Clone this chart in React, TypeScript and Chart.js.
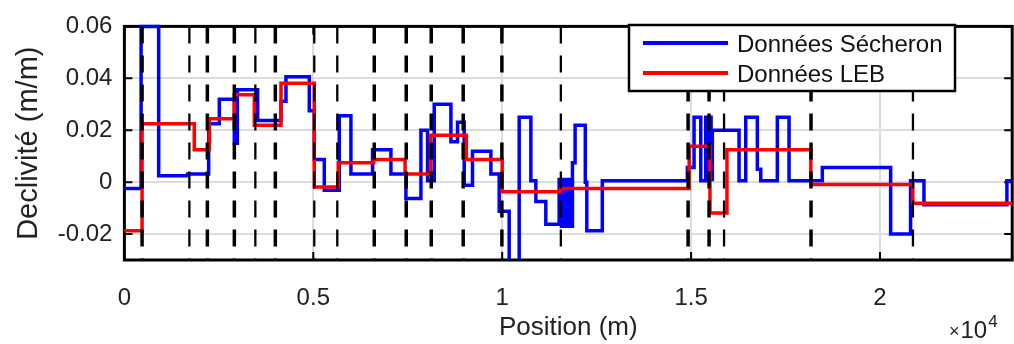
import React, { useEffect, useRef } from 'react';
import { Chart, registerables } from 'chart.js';

Chart.register(...registerables);

// ---- data ----
const secheronPos = [0, 442, 908, 1675, 2231, 2513, 2910, 2990, 3527, 4145, 4277, 4894, 5026, 5291, 5688, 5996, 6569, 7055, 7452, 7849, 8025, 8201, 8643, 8818, 8995, 9214, 9701, 9921, 10185, 10450, 10759, 10891, 11155, 11508, 11570, 11630, 11700, 11770, 11820, 11860, 11930, 12200, 12240, 12650, 14902, 15079, 15257, 15389, 15440, 15490, 15530, 15563, 16270, 16447, 16754, 16844, 17283, 17593, 18474, 20283, 20810, 21164, 23360, 23500];
const secheronVal = [-0.0025, 0.06, 0.0025, 0.0031, 0.0225, 0.0319, 0.015, 0.0356, 0.0237, 0.0312, 0.0406, 0.0275, 0.0087, -0.0031, 0.0256, 0.0031, 0.0125, 0.0031, -0.0063, 0.02, 0.0005, 0.030, 0.0156, 0.0231, -0.0012, 0.0119, 0.0031, -0.0112, -0.04, 0.025, 0.0005, -0.0075, -0.0162, 0.001, -0.017, 0.001, -0.017, 0.001, -0.017, 0.0075, 0.0219, 0.0, -0.0187, 0.0005, 0.0056, 0.025, 0.0005, 0.025, 0.001, 0.025, 0.001, 0.02, 0.0005, 0.025, 0.005, 0.0005, 0.025, 0.0005, 0.0056, -0.02, 0.0005, -0.0087, 0.0005, 0.0005];

const lebPos = [0, 468, 1850, 2250, 2910, 3440, 4145, 5026, 5660, 6600, 7430, 8110, 9050, 10000, 11550, 14950, 15500, 15950, 18170, 20870, 23500];
const lebVal = [-0.0187, 0.0225, 0.0125, 0.0244, 0.0337, 0.0219, 0.0381, -0.0019, 0.0075, 0.0087, 0.0031, 0.0181, 0.0087, -0.0037, -0.0025, 0.0138, -0.0119, 0.0125, -0.0009, -0.0081, -0.0081];

const sectionMarksMajor = [468, 2196, 2910, 3995, 6614, 7460, 8122, 8968, 9992, 14921, 15476, 18175];
const sectionMarksMinor = [1720, 3466, 5026, 5635, 11553, 15873, 20873];

const xTicks = [0, 5000, 10000, 15000, 20000];
const xTickLabels = ['0', '0.5', '1', '1.5', '2'];
const yTicks = [-0.02, 0, 0.02, 0.04, 0.06];
const yTickLabels = ['-0.02', '0', '0.02', '0.04', '0.06'];
const seriesNames = ['Données Sécheron', 'Données LEB'];
const xTitle = 'Position (m)';
const yTitle = 'Declivité (m/m)';
const xExponent = '4';

const X_MIN = 0;
const X_MAX = 23500;
const Y_MIN = -0.03;
const Y_MAX = 0.06;

const FONT = '"Liberation Sans", Arial, Helvetica, sans-serif';
const TXT = '#222222';

const framePlugin = {
  id: 'frame',
  beforeDatasetsDraw(chart: any) {
    const { ctx, chartArea: a, scales } = chart;
    ctx.save();
    ctx.strokeStyle = '#000';
    ctx.lineWidth = 2;
    const tl = 8;
    ctx.beginPath();
    xTicks.forEach((v) => {
      const px = scales.x.getPixelForValue(v);
      ctx.moveTo(px, a.bottom); ctx.lineTo(px, a.bottom - tl);
      ctx.moveTo(px, a.top); ctx.lineTo(px, a.top + tl);
    });
    yTicks.forEach((v) => {
      const py = scales.y.getPixelForValue(v);
      ctx.moveTo(a.left, py); ctx.lineTo(a.left + tl, py);
      ctx.moveTo(a.right, py); ctx.lineTo(a.right - tl, py);
    });
    ctx.stroke();
    ctx.lineWidth = 3;
    ctx.strokeRect(a.left, a.top, a.right - a.left, a.bottom - a.top);
    ctx.restore();
  },
};

const overlayPlugin = {
  id: 'overlay',
  afterDraw(chart: any) {
    const { ctx } = chart;
    ctx.save();
    // legend
    const lx = 629, ly = 25, lw = 326, lh = 66;
    ctx.fillStyle = '#fff';
    ctx.fillRect(lx, ly, lw, lh);
    ctx.strokeStyle = '#000';
    ctx.lineWidth = 2.5;
    ctx.strokeRect(lx, ly, lw, lh);
    const colors = ['#0000ff', '#ff0000'];
    const rows = [43, 73];
    ctx.font = `24px ${FONT}`;
    ctx.textBaseline = 'middle';
    ctx.textAlign = 'left';
    rows.forEach((ry, i) => {
      ctx.strokeStyle = colors[i];
      ctx.lineWidth = 4;
      ctx.beginPath();
      ctx.moveTo(643, ry);
      ctx.lineTo(728, ry);
      ctx.stroke();
      ctx.fillStyle = '#111';
      ctx.fillText(seriesNames[i], 737, ry + 2);
    });
    // x10^4
    ctx.fillStyle = TXT;
    ctx.textBaseline = 'alphabetic';
    ctx.font = `18px ${FONT}`;
    ctx.fillText('×', 949, 337);
    const wx = ctx.measureText('×').width;
    ctx.font = `24px ${FONT}`;
    ctx.fillText('10', 949 + wx + 1, 338);
    const w10 = ctx.measureText('10').width;
    ctx.font = `17px ${FONT}`;
    ctx.fillText(xExponent, 949 + wx + 1 + w10 + 1, 327);
    ctx.restore();
  },
};

export default function App() {
  const ref = useRef<HTMLCanvasElement | null>(null);
  useEffect(() => {
    if (!ref.current) return;
    const markerSets = [
      ...sectionMarksMajor.map((m) => ({ m, w: 3.5 })),
      ...sectionMarksMinor.map((m) => ({ m, w: 2.3 })),
    ];
    const markerDatasets = markerSets.map(({ m, w }) => ({
      type: 'line' as const,
      data: [{ x: m, y: Y_MAX }, { x: m, y: Y_MIN }],
      borderColor: '#000',
      borderWidth: w,
      borderDash: [17, 12],
      pointRadius: 0,
      fill: false,
      order: 0,
      clip: 0,
    }));
    const chart = new Chart(ref.current, {
      type: 'line',
      data: {
        datasets: [
          {
            label: seriesNames[1],
            data: lebPos.map((x, i) => ({ x, y: lebVal[i] })),
            borderColor: '#ff0000',
            borderWidth: 3.5,
            stepped: 'before',
            pointRadius: 0,
            fill: false,
            order: 1,
            clip: { left: 4, top: 4, right: 4, bottom: 0 },
          },
          {
            label: seriesNames[0],
            data: secheronPos.map((x, i) => ({ x, y: secheronVal[i] })),
            borderColor: '#0000ff',
            borderWidth: 3.5,
            stepped: 'before',
            pointRadius: 0,
            fill: false,
            order: 2,
            clip: { left: 4, top: 4, right: 4, bottom: 0 },
          },
          ...markerDatasets,
        ] as any,
      },
      options: {
        animation: false,
        responsive: false,
        devicePixelRatio: 1,
        layout: { padding: { left: 0, right: 1.8, top: 20.5, bottom: 0 } },
        plugins: { legend: { display: false }, tooltip: { enabled: false } },
        scales: {
          x: {
            type: 'linear',
            min: X_MIN,
            max: X_MAX,
            afterBuildTicks: (s: any) => { s.ticks = xTicks.map((v) => ({ value: v })); },
            afterFit: (s: any) => { s.height = 84; },
            ticks: {
              callback: (_v: any, i: number) => xTickLabels[i],
              font: { family: FONT, size: 24 },
              color: TXT,
              padding: 24,
              maxRotation: 0,
              autoSkip: false,
            },
            grid: { color: '#dcdcdc', lineWidth: 2, drawTicks: false },
            border: { display: false },
            title: {
              display: true,
              text: xTitle,
              font: { family: FONT, size: 26, lineHeight: 1 },
              color: TXT,
              padding: { top: 0, bottom: 3 },
            },
          },
          y: {
            type: 'linear',
            min: Y_MIN,
            max: Y_MAX,
            afterBuildTicks: (s: any) => { s.ticks = yTicks.map((v) => ({ value: v })); },
            afterFit: (s: any) => { s.width = 124.4; },
            ticks: {
              callback: (_v: any, i: number) => yTickLabels[i],
              font: { family: FONT, size: 24 },
              color: TXT,
              padding: 12,
              autoSkip: false,
            },
            grid: { color: '#dcdcdc', lineWidth: 2, drawTicks: false },
            border: { display: false },
            title: {
              display: true,
              text: yTitle,
              font: { family: FONT, size: 29, lineHeight: 1 },
              color: TXT,
              padding: { top: 14, bottom: 0 },
            },
          },
        },
      },
      plugins: [framePlugin, overlayPlugin],
    });
    return () => chart.destroy();
  }, []);
  return (
    <div style={{ position: 'fixed', left: 0, top: 0, width: 1014, height: 344, background: '#fff' }}>
      <canvas ref={ref} width={1014} height={344} />
    </div>
  );
}
